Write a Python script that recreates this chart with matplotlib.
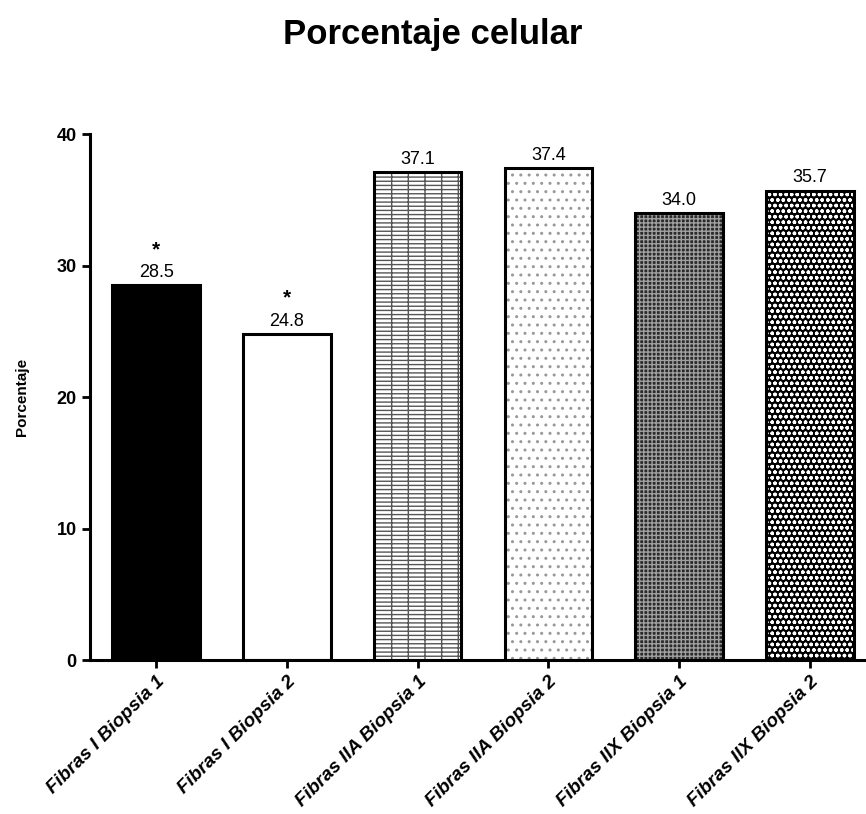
import numpy as np
import matplotlib.pyplot as plt

categorias = ['Fibras I Biopsia 1', 'Fibras I Biopsia 2', 'Fibras IIA Biopsia 1',
              'Fibras IIA Biopsia 2', 'Fibras IIX Biopsia 1', 'Fibras IIX Biopsia 2']
valores = [28.5, 24.8, 37.1, 37.4, 34.0, 35.7]
significativo = [True, True, False, False, False, False]

# relleno, color del patron, patron
caras = ['black', 'white', 'white', 'white', '#2a2a2a', 'black']
colores_patron = ['black', 'white', '#555555', '#999999', '#a0a0a0', 'white']
patrones = [None, None, '---+', '..', '++++', 'ooo']

plt.rcParams['font.family'] = ['Liberation Sans', 'DejaVu Sans']
plt.rcParams['hatch.linewidth'] = 1.0

fig = plt.figure(figsize=(8.66, 8.14), dpi=100)
ax = fig.add_axes([0.104, 0.189, 0.896, 0.646])

x = np.arange(len(valores))
for i in range(len(valores)):
    ax.bar(x[i], valores[i], width=0.67, color=caras[i], hatch=patrones[i],
           edgecolor=colores_patron[i], linewidth=0)
    ax.bar(x[i], valores[i], width=0.67, fill=False, edgecolor='black', linewidth=2.2)
    ax.text(x[i], valores[i] + 0.35, '%.1f' % valores[i], ha='center', va='bottom',
            fontsize=13, clip_on=False)
    if significativo[i]:
        ax.text(x[i], valores[i] + 2.0, '*', ha='center', va='bottom',
                fontsize=15, fontweight='bold')

ax.set_xlim(-0.505, 5.43)
ax.set_ylim(0, 40)
ax.set_yticks([0, 10, 20, 30, 40])
ax.set_xticks(x)
ax.set_xticklabels(categorias, rotation=45, ha='right', rotation_mode='anchor',
                   fontsize=13.8, fontweight='bold', fontstyle='italic')
for t in ax.get_yticklabels():
    t.set_fontweight('bold')
    t.set_fontsize(13)
ax.tick_params(axis='both', width=2, length=6, direction='out')
ax.tick_params(axis='x', pad=3)
ax.spines['top'].set_visible(False)
ax.spines['right'].set_visible(False)
ax.spines['left'].set_linewidth(2.2)
ax.spines['bottom'].set_linewidth(2.2)
ax.set_ylabel('Porcentaje', fontsize=11, fontweight='bold', labelpad=20)
fig.suptitle('Porcentaje celular', fontsize=25, fontweight='bold', y=0.978)

fig.savefig('out.png', dpi=100)
